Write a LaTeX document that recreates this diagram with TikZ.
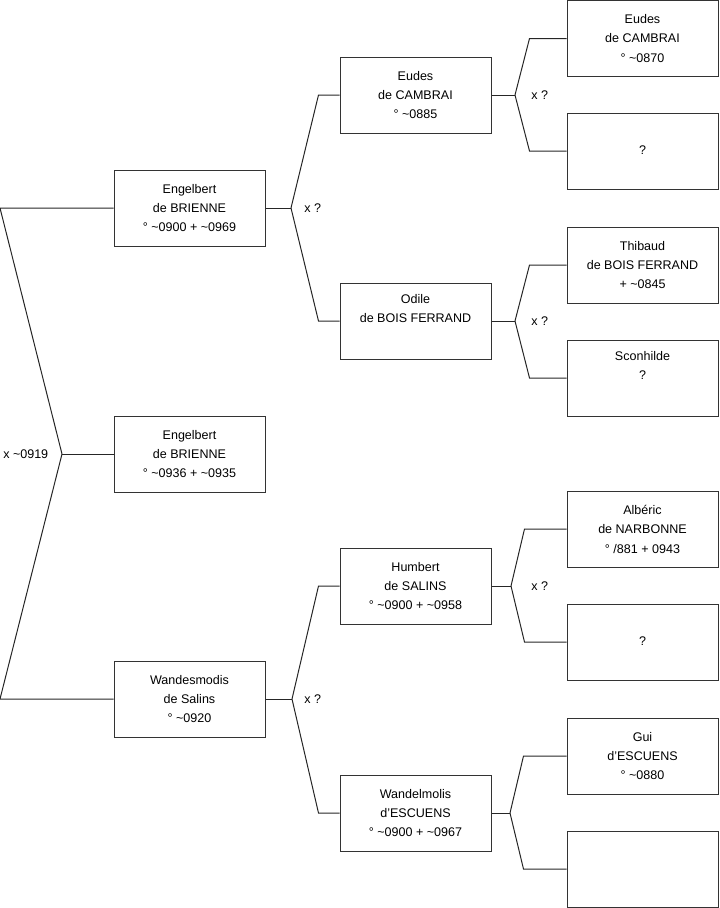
\documentclass[tikz,border=0pt]{standalone}
\usepackage{fontspec}
\setmainfont{Liberation Sans}
\usetikzlibrary{positioning, calc}

\newcommand{\tl}{\textasciitilde}

\begin{document}
\begin{tikzpicture}[
    x=0.75pt, y=-0.75pt,
    every node/.style={font=\fontsize{9.4}{14.6}\selectfont},
    person/.style={rectangle, draw=black!80, line width=0.75pt, fill=white,
                   minimum width=113.25pt, minimum height=57pt,
                   inner sep=0pt, align=center},
    union/.style={anchor=west, inner sep=0pt},
    link/.style={draw=black!85, line width=0.75pt},
]
\useasboundingbox (0,0) rectangle (719,908);

% Nodes
\node[person] (eng)     at (189.5, 208)  {Engelbert\\de BRIENNE\\° \tl0900 + \tl0969};
\node[person] (mid)     at (189.5, 454)  {Engelbert\\de BRIENNE\\° \tl0936 + \tl0935};
\node[person] (wand)    at (189.5, 699)  {Wandesmodis\\de Salins\\° \tl0920};

\node[person] (eudes)   at (415.5, 95)   {Eudes\\de CAMBRAI\\° \tl0885};
\node[person] (odile)   at (415.5, 321)  {Odile\\de BOIS FERRAND\\\strut};
\node[person] (humbert) at (415.5, 586)  {Humbert\\de SALINS\\° \tl0900 + \tl0958};
\node[person] (wandel)  at (415.5, 813)  {Wandelmolis\\d'ESCUENS\\° \tl0900 + \tl0967};

\node[person] (eudesP)  at (642.5, 38.5) {Eudes\\de CAMBRAI\\° \tl0870};
\node[person] (eudesM)  at (642.5, 151)  {\strut\\?\\\strut};
\node[person] (thib)    at (642.5, 265)  {Thibaud\\de BOIS FERRAND\\+ \tl0845};
\node[person] (scon)    at (642.5, 378)  {Sconhilde\\?\\\strut};
\node[person] (alb)     at (642.5, 529)  {Albéric\\de NARBONNE\\° /881 + 0943};
\node[person] (humbM)   at (642.5, 642)  {\strut\\?\\\strut};
\node[person] (gui)     at (642.5, 756)  {Gui\\d'ESCUENS\\° \tl0880};
\node[person] (wandM)   at (642.5, 869)  {};

% Junctions
\coordinate (j0)  at (62, 454);
\coordinate (j1)  at (291, 208);
\coordinate (j2)  at (292, 699);
\coordinate (j11) at (515, 95);
\coordinate (j12) at (515, 321);
\coordinate (j21) at (511, 586);
\coordinate (j22) at (510, 813);

% Marriage labels
\node[union] (u0)  at (3, 454)   {x \tl0919};
\node[union] (u1)  at (304, 208) {x ?};
\node[union] (u2)  at (304, 699) {x ?};
\node[union] (u11) at (531, 95)  {x ?};
\node[union] (u12) at (531, 321) {x ?};
\node[union] (u21) at (531, 586) {x ?};

% Edges
\draw[link] (mid.west) -- (j0);
\draw[link] (j0) -- ($(eng.west)+(-113.5,0)$) -- (eng.west);
\draw[link] (j0) -- ($(wand.west)+(-113.5,0)$) -- (wand.west);

\draw[link] (eng.east) -- (j1);
\draw[link] (j1) -- ($(eudes.west)+(-21,0)$) -- (eudes.west);
\draw[link] (j1) -- ($(odile.west)+(-21,0)$) -- (odile.west);

\draw[link] (wand.east) -- (j2);
\draw[link] (j2) -- ($(humbert.west)+(-21,0)$) -- (humbert.west);
\draw[link] (j2) -- ($(wandel.west)+(-21,0)$) -- (wandel.west);

\draw[link] (eudes.east) -- (j11);
\draw[link] (j11) -- ($(eudesP.west)+(-37,0)$) -- (eudesP.west);
\draw[link] (j11) -- ($(eudesM.west)+(-37,0)$) -- (eudesM.west);

\draw[link] (odile.east) -- (j12);
\draw[link] (j12) -- ($(thib.west)+(-37,0)$) -- (thib.west);
\draw[link] (j12) -- ($(scon.west)+(-37,0)$) -- (scon.west);

\draw[link] (humbert.east) -- (j21);
\draw[link] (j21) -- ($(alb.west)+(-42,0)$) -- (alb.west);
\draw[link] (j21) -- ($(humbM.west)+(-42,0)$) -- (humbM.west);

\draw[link] (wandel.east) -- (j22);
\draw[link] (j22) -- ($(gui.west)+(-43,0)$) -- (gui.west);
\draw[link] (j22) -- ($(wandM.west)+(-43,0)$) -- (wandM.west);

\end{tikzpicture}
\end{document}
